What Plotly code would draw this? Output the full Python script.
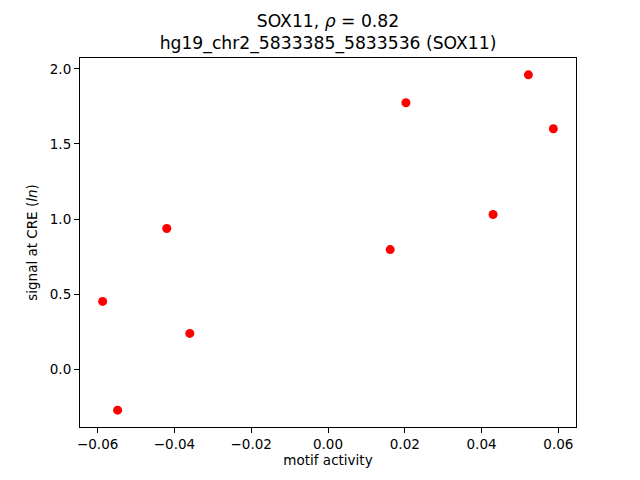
import plotly.graph_objects as go

motif_activity = [-0.0587, -0.0548, -0.0420, -0.0360, 0.0162, 0.0203, 0.0430, 0.0522, 0.0587]
signal = [0.452, -0.272, 0.937, 0.239, 0.797, 1.774, 1.030, 1.960, 1.601]

x_ticks = [-0.06, -0.04, -0.02, 0.0, 0.02, 0.04, 0.06]
x_tick_labels = ["−0.06", "−0.04", "−0.02", "0.00", "0.02", "0.04", "0.06"]
y_ticks = [0.0, 0.5, 1.0, 1.5, 2.0]
y_tick_labels = ["0.0", "0.5", "1.0", "1.5", "2.0"]

title_text = "SOX11, <i>ρ</i> = 0.82<br>hg19_chr2_5833385_5833536 (SOX11)"

font = "DejaVu Sans"

fig = go.Figure(go.Scatter(
    x=motif_activity, y=signal, mode="markers",
    marker=dict(color="red", size=9, line=dict(width=0)),
))

fig.update_layout(
    width=640, height=480,
    margin=dict(l=80, r=64, t=58, b=53, autoexpand=False),
    paper_bgcolor="white", plot_bgcolor="white",
    showlegend=False,
    font=dict(family=font, color="black", size=14),
    title=dict(text=title_text, x=0.5, xref="paper", xanchor="center",
               y=1 - 27 / 480, yref="container", yanchor="top",
               font=dict(family=font, size=17.2, color="black")),
)

axis_common = dict(
    showgrid=False, zeroline=False, showline=True, linecolor="black", linewidth=1.1,
    mirror=True, ticks="outside", ticklen=5, tickwidth=1.1, tickcolor="black",
    tickfont=dict(family=font, size=13.5, color="black"), automargin=False,
)

fig.update_xaxes(range=[-0.0646, 0.0646], tickvals=x_ticks, ticktext=x_tick_labels,
                 title=dict(text="motif activity", standoff=4,
                            font=dict(family=font, size=13.5)), **axis_common)
fig.update_yaxes(range=[-0.384, 2.072], tickvals=y_ticks, ticktext=y_tick_labels,
                 title=dict(text="signal at CRE (<i>ln</i>)", standoff=9,
                            font=dict(family=font, size=13.5)), **axis_common)

fig.write_html("out.html", config={"displayModeBar": False},
               post_script="document.body.style.margin='0';")
